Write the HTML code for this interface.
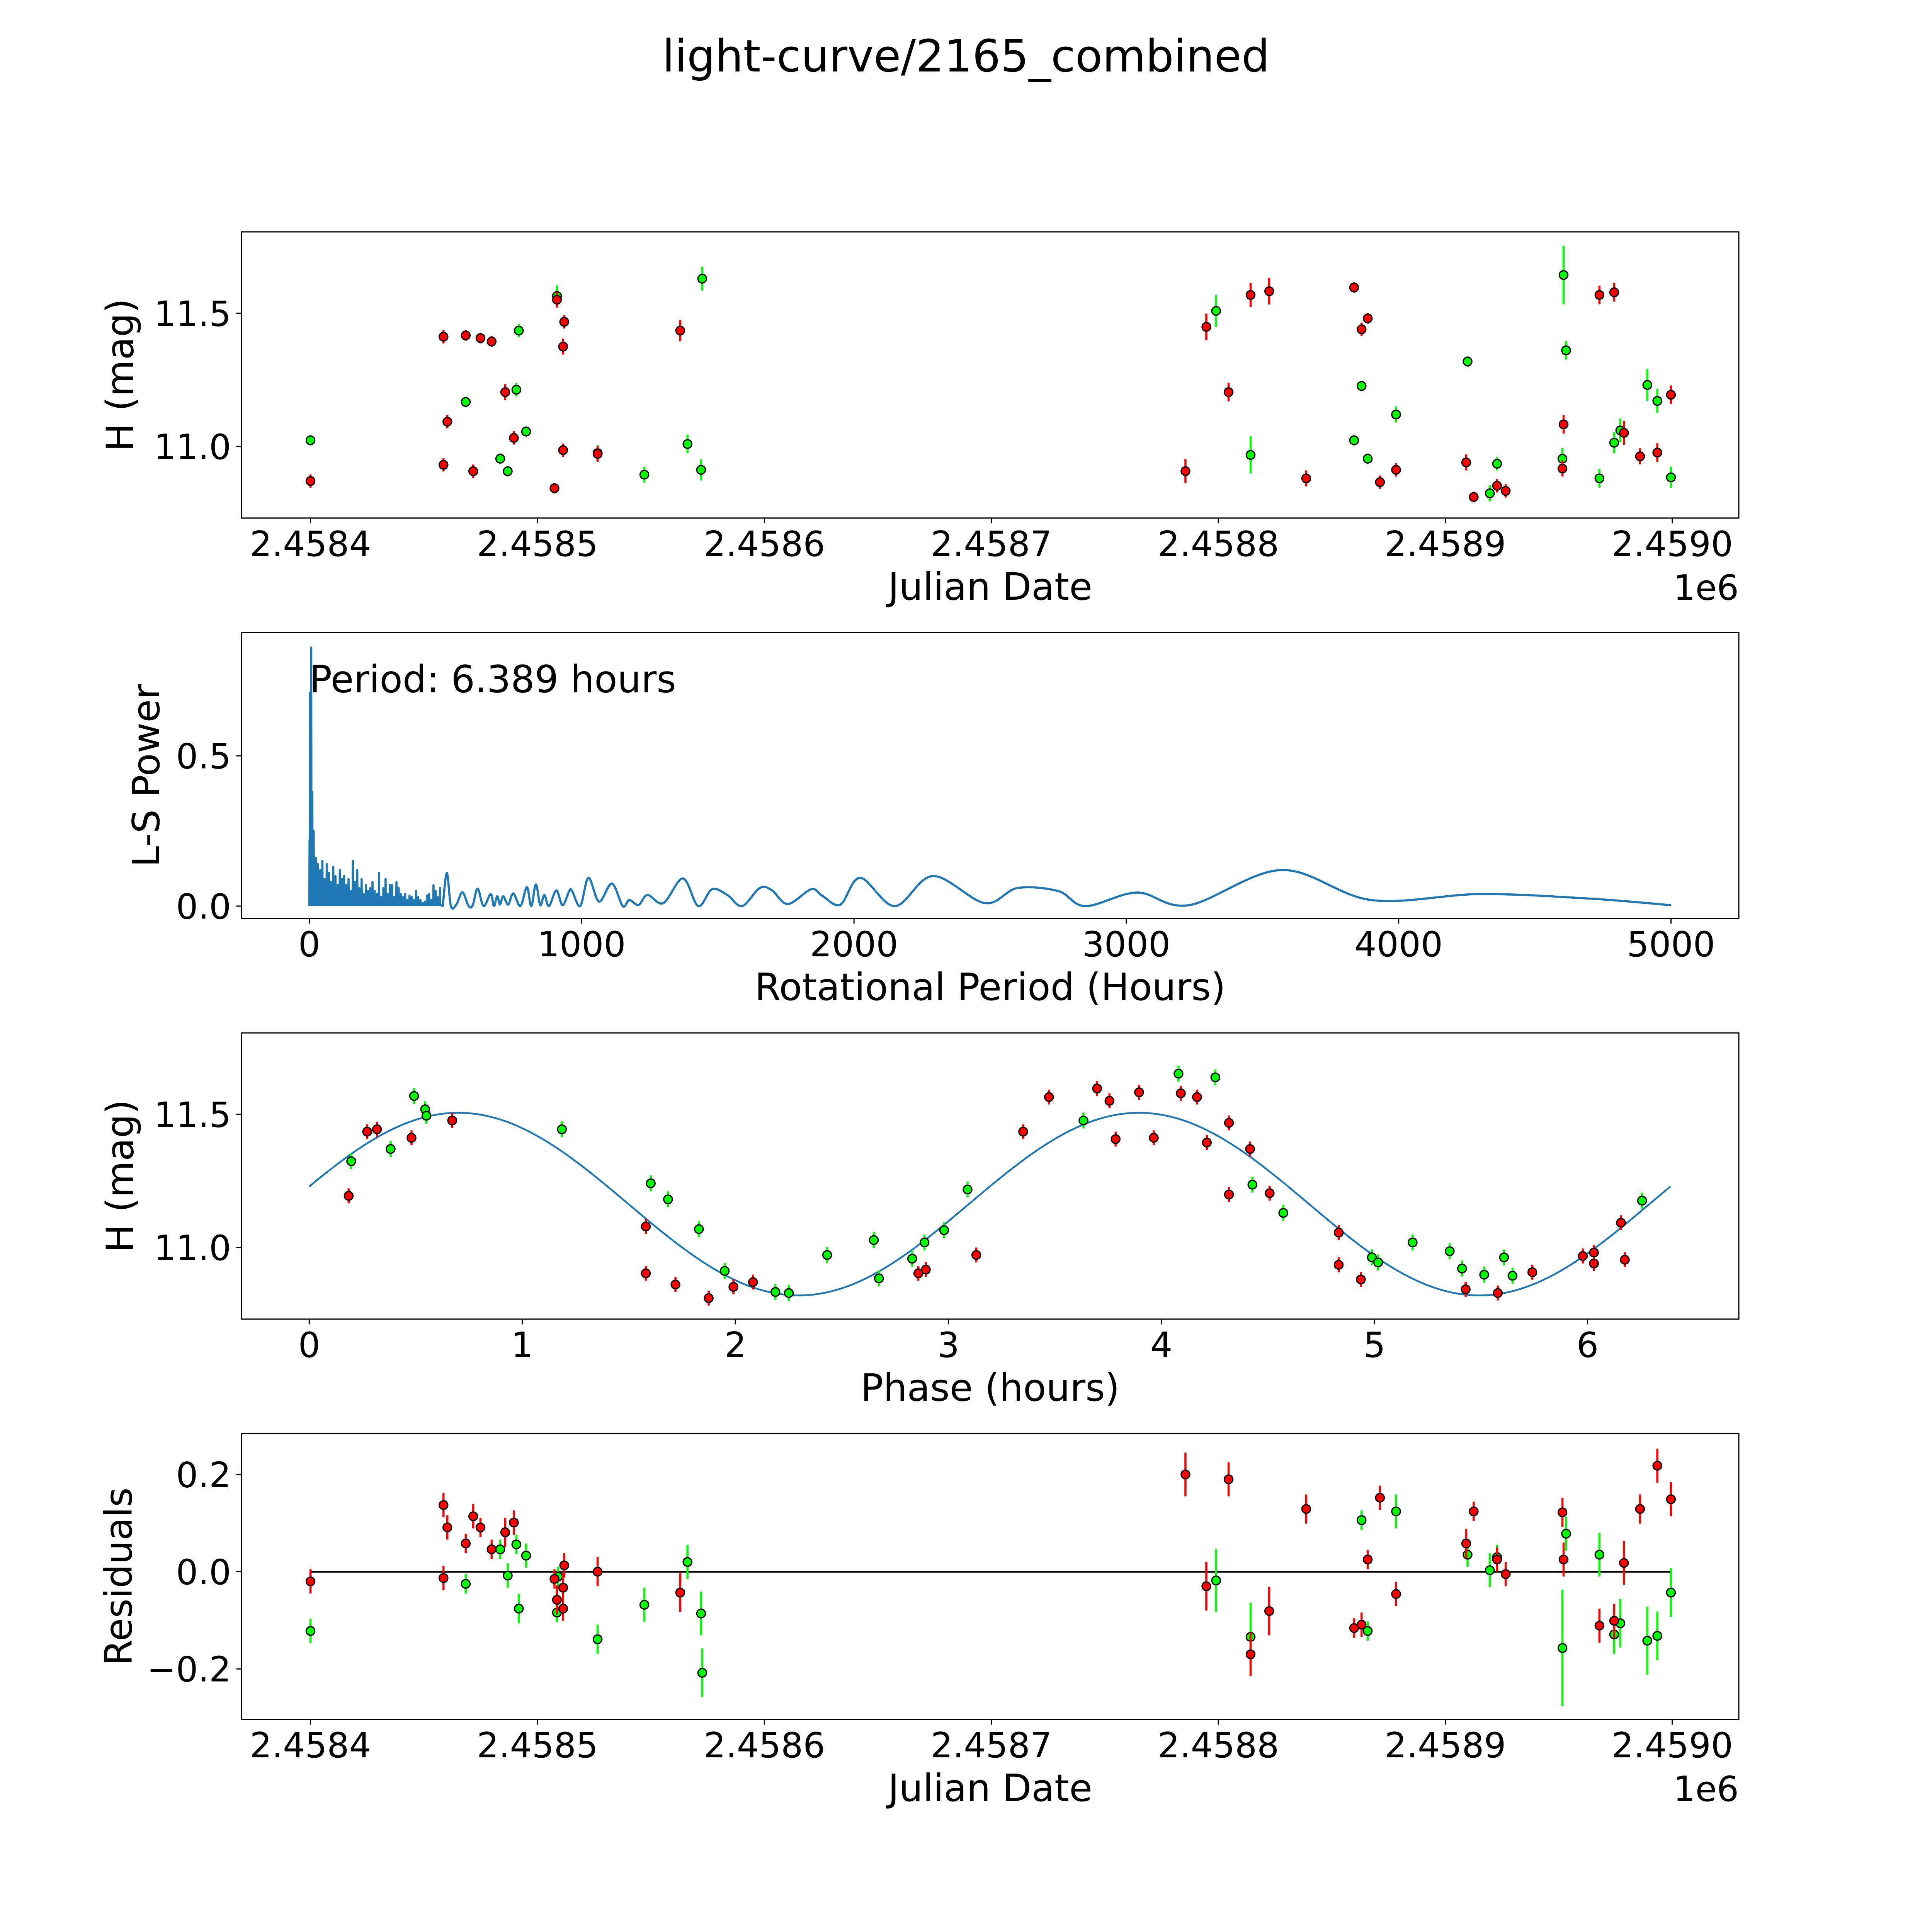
<!DOCTYPE html>
<html><head><meta charset="utf-8">
<style>
html,body{margin:0;padding:0;background:#fff;width:100%;height:100%;overflow:hidden;}
svg{display:block;position:fixed;left:0;top:0;width:100vw;height:100vh;}
text{font-family:"DejaVu Sans","Liberation Sans",sans-serif;fill:#000;}
</style></head>
<body>
<svg id="fig" xmlns="http://www.w3.org/2000/svg" viewBox="0 0 5400 5400" preserveAspectRatio="none">
<rect x="0" y="0" width="5400" height="5400" fill="#fff"/>
<text x="2700" y="200" font-size="124" text-anchor="middle">light-curve/2165_combined</text>
</svg>
<script>
// ---------- Panel 1: light curve data ----------
const redJD = [2458400.0,2458458.6,2458460.3,2458458.6,2458468.4,2458471.7,2458474.9,2458479.8,2458485.8,2458489.6,2458507.5,2458508.6,2458511.3,2458511.8,2458511.3,2458526.5,2458562.9,2458785.5,2458794.7,2458804.5,2458814.2,2458822.4,2458838.7,2458859.8,2458863.1,2458865.8,2458871.2,2458878.3,2458909.2,2458912.5,2458922.8,2458926.6,2458951.6,2458952.1,2458967.9,2458974.4,2458978.7,2458985.8,2458993.4,2458999.4];
const redMag = [10.870,11.412,11.093,10.931,11.417,10.907,11.407,11.394,11.204,11.032,10.843,11.551,11.375,11.468,10.986,10.972,11.435,10.907,11.449,11.204,11.569,11.583,10.880,11.597,11.440,11.481,10.866,10.912,10.940,10.810,10.852,10.833,10.917,11.083,11.569,11.579,11.051,10.963,10.977,11.194];
const redErr = [0.025,0.025,0.025,0.025,0.02,0.025,0.02,0.02,0.03,0.025,0.02,0.03,0.03,0.025,0.025,0.03,0.04,0.045,0.05,0.035,0.045,0.05,0.03,0.02,0.025,0.02,0.025,0.025,0.03,0.02,0.025,0.025,0.03,0.035,0.035,0.035,0.045,0.03,0.035,0.035];
const greenJD = [2458400.0,2458468.4,2458483.6,2458486.9,2458490.7,2458491.8,2458495.0,2458508.6,2458526.5,2458547.1,2458566.1,2458572.1,2458572.6,2458799.0,2458814.2,2458859.8,2458863.1,2458865.8,2458878.3,2458909.8,2458919.6,2458922.8,2458951.6,2458952.1,2458953.2,2458967.9,2458974.4,2458977.1,2458989.0,2458993.4,2458999.4];
const greenMag = [11.023,11.167,10.954,10.907,11.213,11.435,11.056,11.565,10.975,10.894,11.009,10.912,11.630,11.509,10.968,11.023,11.227,10.954,11.120,11.319,10.824,10.935,10.954,11.644,11.361,10.880,11.014,11.060,11.231,11.171,10.884];
const greenErr = [0.02,0.02,0.02,0.02,0.025,0.025,0.02,0.04,0.03,0.03,0.035,0.04,0.045,0.06,0.07,0.02,0.02,0.02,0.03,0.02,0.03,0.025,0.04,0.11,0.035,0.035,0.04,0.045,0.06,0.045,0.04];

// ---------- Panel 2: periodogram ----------
const spikePeriod = [1,3,5,7,9,11,13,16,24,32,40,48,56,64,72,80,88,96,104,112,120,128,136,144,152,160,168,176,184,192,200,208,216,224,232,240,248,256,264,272,280,288,296,304,312,320,328,336,344,352,360,368,376,384,392,400,408,416,424,432,440,448,456,464,472,480];
const spikePower = [0.22,0.71,0.10,0.86,0.10,0.38,0.20,0.25,0.16,0.14,0.12,0.15,0.09,0.14,0.11,0.08,0.13,0.10,0.07,0.12,0.09,0.10,0.07,0.09,0.05,0.15,0.08,0.12,0.06,0.09,0.04,0.07,0.05,0.06,0.08,0.05,0.04,0.11,0.03,0.06,0.09,0.04,0.07,0.07,0.03,0.08,0.06,0.04,0.03,0.04,0.02,0.035,0.03,0.02,0.05,0.03,0.02,0.01,0.015,0.035,0.04,0.02,0.07,0.05,0.03,0.06];
const smoothPeriod = [490,505,520,540,562,585,600,618,640,666,678,690,700,712,730,749,775,799,815,832,848,863,880,907,930,955,965,995,1025,1064,1111,1151,1175,1209,1242,1300,1372,1428,1479,1535,1589,1654,1698,1757,1843,1884,1950,2023,2150,2290,2480,2600,2750,2850,3040,3230,3570,3900,4300,4700,5000];
const smoothPower = [0.0,0.11,0.0,0.005,0.046,0.0,0.003,0.058,0.0,0.04,0.0,0.033,0.005,0.033,0.005,0.042,0.0,0.063,0.0,0.072,0.003,0.037,0.0,0.052,0.003,0.051,0.05,0.0,0.094,0.015,0.075,0.0,0.02,0.004,0.037,0.01,0.092,0.0,0.056,0.037,0.0,0.06,0.053,0.007,0.056,0.034,0.005,0.094,0.0,0.10,0.01,0.06,0.05,0.0,0.045,0.003,0.12,0.02,0.04,0.025,0.003];
const periodLabel = ["Period: 6.389 hours"];

// ---------- Panel 3: phased data ----------
const redPhase = [0.185,0.272,0.318,0.480,0.671,1.580,1.580,1.719,1.875,1.991,2.083,2.859,2.894,3.131,3.351,3.472,3.698,3.756,3.785,3.895,3.964,4.091,4.167,4.213,4.317,4.317,4.416,4.508,4.832,4.832,4.936,5.428,5.579,5.741,5.978,6.030,6.030,6.157,6.175];
const redPhaseMag = [11.194,11.435,11.444,11.412,11.477,11.079,10.903,10.861,10.810,10.852,10.870,10.903,10.917,10.972,11.435,11.565,11.597,11.551,11.407,11.583,11.412,11.579,11.565,11.394,11.468,11.199,11.370,11.204,11.056,10.935,10.880,10.843,10.829,10.907,10.968,10.981,10.940,11.093,10.954];
const greenPhase = [0.197,0.382,0.492,0.544,0.550,1.186,1.603,1.684,1.829,1.950,2.188,2.251,2.431,2.650,2.674,2.830,2.888,2.980,3.090,3.634,4.080,4.253,4.427,4.572,4.988,5.017,5.179,5.353,5.411,5.515,5.608,5.648,6.256];
const greenPhaseMag = [11.324,11.370,11.569,11.519,11.495,11.444,11.241,11.181,11.069,10.912,10.833,10.829,10.972,11.028,10.884,10.958,11.019,11.065,11.218,11.477,11.653,11.639,11.236,11.130,10.963,10.944,11.019,10.986,10.921,10.898,10.963,10.894,11.176];
// model: [mean, amplitude, peak phase, half period (hours)]
const modelCoef = [11.163,0.343,0.70,3.1945];
const modelRange = [0,6.389];

// ---------- Panel 4: residuals ----------
const redResid = [-0.020,0.137,0.091,-0.013,0.058,0.114,0.091,0.046,0.081,0.101,-0.015,-0.058,-0.033,0.013,-0.076,0.0,-0.043,0.200,-0.030,0.190,-0.170,-0.081,0.129,-0.116,-0.109,0.025,0.152,-0.046,0.058,0.124,0.025,-0.005,0.122,0.025,-0.111,-0.101,0.018,0.129,0.218,0.149];
const greenResidJD = [2458400.0,2458468.4,2458483.6,2458486.9,2458490.7,2458491.8,2458495.0,2458508.6,2458509.1,2458526.5,2458547.1,2458566.1,2458572.1,2458572.6,2458799.0,2458814.2,2458863.1,2458865.8,2458878.3,2458909.8,2458919.6,2458922.8,2458951.6,2458953.2,2458967.9,2458974.4,2458977.1,2458989.0,2458993.4,2458999.4];
const greenResid = [-0.122,-0.025,0.046,-0.008,0.056,-0.076,0.033,-0.084,-0.010,-0.139,-0.068,0.020,-0.086,-0.208,-0.018,-0.134,0.106,-0.122,0.124,0.035,0.003,0.030,-0.157,0.078,0.035,-0.129,-0.106,-0.142,-0.132,-0.043];
const greenResidErr = [0.025,0.02,0.02,0.025,0.02,0.03,0.025,0.02,0.02,0.03,0.035,0.035,0.045,0.05,0.065,0.07,0.02,0.02,0.035,0.025,0.035,0.025,0.12,0.035,0.045,0.04,0.05,0.07,0.05,0.05];

const jdTicks = [2458400,2458500,2458600,2458700,2458800,2458900,2459000];
const jdTickLabels = ["2.4584","2.4585","2.4586","2.4587","2.4588","2.4589","2.4590"];
const magTicks = [11.0,11.5];
const magTickLabels = ["11.0","11.5"];
const pgXTicks = [0,1000,2000,3000,4000,5000];
const pgXTickLabels = ["0","1000","2000","3000","4000","5000"];
const pgYTicks = [0.0,0.5];
const pgYTickLabels = ["0.0","0.5"];
const phaseTicks = [0,1,2,3,4,5,6];
const phaseTickLabels = ["0","1","2","3","4","5","6"];
const residTicks = [-0.2,0.0,0.2];
const residTickLabels = ["\u22120.2","0.0","0.2"];

// ---------- drawing ----------
const NS = "http://www.w3.org/2000/svg";
const svg = document.getElementById('fig');
const L = 675, R = 4860;
const FS = 97, LFS = 105;
function mk(tag, attrs, parent){ const e = document.createElementNS(NS, tag); for (const k in attrs) e.setAttribute(k, attrs[k]); (parent||svg).appendChild(e); return e; }
function scale(d0,d1,p0,p1){ return v => p0 + (v-d0)/(d1-d0)*(p1-p0); }

function axesFrame(top, bottom, name){
  const g = mk('g', {});
  
  
  const clipId = name + '-clip';
  const cp = mk('clipPath', {id: clipId}, g);
  mk('rect', {x: L, y: top, width: R-L, height: bottom-top}, cp);
  const plot = mk('g', {'clip-path': 'url(#'+clipId+')'}, g);
  
  
  return {g, plot};
}
function finishFrame(g, top, bottom){
  const f = mk('rect', {x: L, y: top, width: R-L, height: bottom-top, fill: 'none', stroke: '#000', 'stroke-width': 3.3}, g);
  
  
}
function xTicks(g, ticks, labels, sx, bottom, name){
  ticks.forEach((t,i) => {
    const x = sx(t);
    const tk = mk('line', {x1: x, x2: x, y1: bottom, y2: bottom+14.6, stroke: '#000', 'stroke-width': 3.3}, g);
    
    
    const tx = mk('text', {x: x, y: bottom+106, 'font-size': FS, 'text-anchor': 'middle'}, g);
    
    
    tx.textContent = labels[i];
  });
}
function yTicks(g, ticks, labels, sy, name){
  ticks.forEach((t,i) => {
    const y = sy(t);
    const tk = mk('line', {x1: L-14.6, x2: L, y1: y, y2: y, stroke: '#000', 'stroke-width': 3.3}, g);
    
    
    const tx = mk('text', {x: L-29, y: y+35, 'font-size': FS, 'text-anchor': 'end'}, g);
    
    
    tx.textContent = labels[i];
  });
}
function xLabel(g, text, bottom, name){
  const t = mk('text', {x: (L+R)/2, y: bottom+228, 'font-size': LFS, 'text-anchor': 'middle'}, g);
  
  
  t.textContent = text;
}
function yLabel(g, text, top, bottom, xb, name){
  const cy = (top+bottom)/2;
  const t = mk('text', {x: xb, y: cy, 'font-size': LFS, 'text-anchor': 'middle', transform: 'rotate(-90 '+xb+' '+cy+')'}, g);
  
  
  t.textContent = text;
}
function offsetText(g, bottom){
  const t = mk('text', {x: R, y: bottom+228, 'font-size': FS, 'text-anchor': 'end'}, g);
  
  
  t.textContent = '1e6';
}
function points(plot, xs, ys, errs, sx, sy, color, name){
  const g = mk('g', {}, plot);
  
  
  xs.forEach((xv,i) => {
    if (errs){
      const e = mk('line', {x1: sx(xv), x2: sx(xv), y1: sy(ys[i]-errs[i]), y2: sy(ys[i]+errs[i]), stroke: color, 'stroke-width': 6}, g);
      
      
    }
  });
  xs.forEach((xv,i) => {
    const c = mk('circle', {cx: sx(xv), cy: sy(ys[i]), r: 12, fill: color, stroke: '#000', 'stroke-width': 3.5}, g);
    
    
  });
}
function defErr(arr, v){ return arr.map(() => v); }

const RED = '#ff0000', GREEN = '#00ff00';
const jdMin = 2458369.6, jdMax = 2459029.3;

// Panel 1
{
  const top = 648, bottom = 1448;
  const sx = scale(jdMin, jdMax, L, R), sy = scale(10.731, 11.806, bottom, top);
  const {g, plot} = axesFrame(top, bottom, 'light-curve-panel');
  points(plot, greenJD, greenMag, greenErr, sx, sy, GREEN, 'green-series');
  points(plot, redJD, redMag, redErr, sx, sy, RED, 'red-series');
  finishFrame(g, top, bottom);
  xTicks(g, jdTicks, jdTickLabels, sx, bottom, 'x-axis');
  yTicks(g, magTicks, magTickLabels, sy, 'y-axis');
  xLabel(g, 'Julian Date', bottom, 'x-axis-title');
  yLabel(g, 'H (mag)', top, bottom, 372, 'y-axis-title');
  offsetText(g, bottom);
}
// Panel 2
{
  const top = 1768, bottom = 2567;
  const sx = scale(-249, 5249, L, R), sy = scale(-0.041, 0.91, bottom, top);
  const {g, plot} = axesFrame(top, bottom, 'periodogram-panel');
  let d = 'M' + sx(0) + ',' + sy(0.0);
  spikePeriod.forEach((p,i) => {
    d += ' L' + sx(p-0.9) + ',' + sy(0.004) + ' L' + sx(p) + ',' + sy(spikePower[i]) + ' L' + sx(p+0.9) + ',' + sy(0.004);
  });
  const pts = smoothPeriod.map((p,i) => [sx(p), sy(smoothPower[i])]);
  d += ' L' + pts[0][0] + ',' + pts[0][1];
  for (let i = 0; i < pts.length-1; i++){
    const p0 = pts[Math.max(0,i-1)], p1 = pts[i], p2 = pts[i+1], p3 = pts[Math.min(pts.length-1,i+2)];
    const c1 = [p1[0] + (p2[0]-p0[0])/6, p1[1] + (p2[1]-p0[1])/6];
    const c2 = [p2[0] - (p3[0]-p1[0])/6, p2[1] - (p3[1]-p1[1])/6];
    d += ' C' + c1[0] + ',' + c1[1] + ' ' + c2[0] + ',' + c2[1] + ' ' + p2[0] + ',' + p2[1];
  }
  const line = mk('path', {d: d, fill: 'none', stroke: '#1f77b4', 'stroke-width': 6, 'stroke-linejoin': 'round'}, plot);
  
  
  finishFrame(g, top, bottom);
  const ann = mk('text', {x: sx(0), y: 1935, 'font-size': LFS}, g);
  
  
  ann.textContent = periodLabel[0];
  xTicks(g, pgXTicks, pgXTickLabels, sx, bottom, 'x-axis');
  yTicks(g, pgYTicks, pgYTickLabels, sy, 'y-axis');
  xLabel(g, 'Rotational Period (Hours)', bottom, 'x-axis-title');
  yLabel(g, 'L-S Power', top, bottom, 445, 'y-axis-title');
}
// Panel 3
{
  const top = 2887, bottom = 3687;
  const sx = scale(-0.318, 6.71, L, R), sy = scale(10.731, 11.806, bottom, top);
  const {g, plot} = axesFrame(top, bottom, 'phase-panel');
  let d = '';
  const n = 300;
  for (let i = 0; i <= n; i++){
    const ph = modelRange[0] + (modelRange[1]-modelRange[0])*i/n;
    const m = modelCoef[0] + modelCoef[1]*Math.cos(2*Math.PI*(ph-modelCoef[2])/modelCoef[3]);
    d += (i ? ' L' : 'M') + sx(ph) + ',' + sy(m);
  }
  const curve = mk('path', {d: d, fill: 'none', stroke: '#1f77b4', 'stroke-width': 5}, plot);
  
  
  points(plot, greenPhase, greenPhaseMag, defErr(greenPhase, 0.03), sx, sy, GREEN, 'green-phase-series');
  points(plot, redPhase, redPhaseMag, defErr(redPhase, 0.028), sx, sy, RED, 'red-phase-series');
  finishFrame(g, top, bottom);
  xTicks(g, phaseTicks, phaseTickLabels, sx, bottom, 'x-axis');
  yTicks(g, magTicks, magTickLabels, sy, 'y-axis');
  xLabel(g, 'Phase (hours)', bottom, 'x-axis-title');
  yLabel(g, 'H (mag)', top, bottom, 372, 'y-axis-title');
}
// Panel 4
{
  const top = 4007, bottom = 4806;
  const sx = scale(jdMin, jdMax, L, R), sy = scale(-0.304, 0.284, bottom, top);
  const {g, plot} = axesFrame(top, bottom, 'residuals-panel');
  const zl = mk('line', {x1: sx(redJD[0]), x2: sx(redJD[redJD.length-1]), y1: sy(0), y2: sy(0), stroke: '#000', 'stroke-width': 5}, plot);
  
  
  points(plot, greenResidJD, greenResid, greenResidErr, sx, sy, GREEN, 'green-residuals');
  points(plot, redJD, redResid, redErr, sx, sy, RED, 'red-residuals');
  finishFrame(g, top, bottom);
  xTicks(g, jdTicks, jdTickLabels, sx, bottom, 'x-axis');
  yTicks(g, residTicks, residTickLabels, sy, 'y-axis');
  xLabel(g, 'Julian Date', bottom, 'x-axis-title');
  yLabel(g, 'Residuals', top, bottom, 368, 'y-axis-title');
  offsetText(g, bottom);
}
</script>
</body></html>
